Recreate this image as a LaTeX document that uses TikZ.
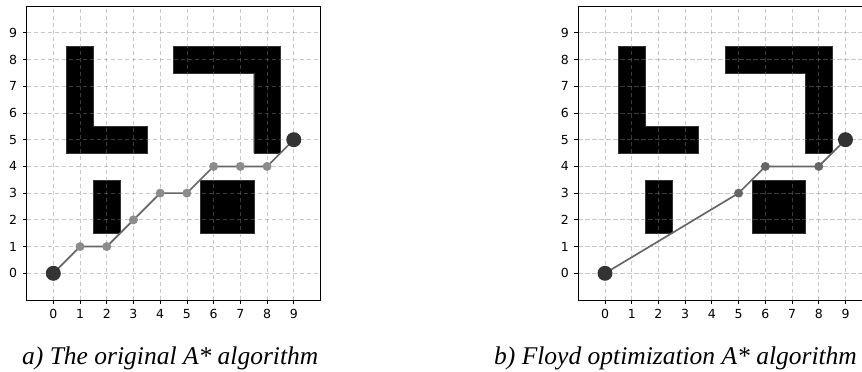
\documentclass[tikz,border=0pt]{standalone}
\usepackage{fontspec}
\setmainfont{Liberation Serif}
\setsansfont{DejaVu Sans}
\usetikzlibrary{positioning}

\begin{document}
\begin{tikzpicture}[
    x=1pt, y=1pt,
    frameline/.style={draw=black, line width=0.9pt},
    gridline/.style={draw=black!48, line width=0.8pt, dash pattern=on 4.5pt off 2.5pt, opacity=0.45},
    obstacle/.style={fill=black, draw=black!80, line width=0.4pt},
    tickmark/.style={draw=black, line width=0.8pt},
    ticklabel/.style={font=\sffamily\fontsize{12.5}{14}\selectfont, inner sep=0pt},
    pathline/.style={draw=black!60, line width=1.7pt, line join=round},
    waypt/.style={circle, fill=black!45, inner sep=0pt, minimum size=9pt},
    endpt/.style={circle, fill=black!80, inner sep=0pt, minimum size=15pt},
    caption/.style={font=\itshape\fontsize{25.5}{28}\selectfont, anchor=base west, inner sep=0pt},
]
\useasboundingbox (0,0) rectangle (862,372);
\clip (0,0) rectangle (862,372);

% === Both grids: obstacles, dashed grid, ticks, frame ===
\foreach \ox/\tag in {53.3/a, 605/b} {
  \begin{scope}[shift={(\ox,98.7)}, x=26.72pt, y=26.72pt]
    \fill[obstacle] (0.5,8.5) -- (1.5,8.5) -- (1.5,5.5) -- (3.5,5.5) -- (3.5,4.5) -- (0.5,4.5) -- cycle;
    \fill[obstacle] (4.5,8.5) -- (8.5,8.5) -- (8.5,4.5) -- (7.5,4.5) -- (7.5,7.5) -- (4.5,7.5) -- cycle;
    \fill[obstacle] (1.5,1.5) rectangle (2.5,3.5);
    \fill[obstacle] (5.5,1.5) rectangle (7.5,3.5);
    \foreach \i in {0,...,9} {
      \draw[gridline] (\i,-1) -- (\i,10);
      \draw[gridline] (-1,\i) -- (10,\i);
      \draw[tickmark] (\i,-1) -- ++(0,-4pt) node[ticklabel, below=4.5pt] (x\tag\i) {\i};
      \draw[tickmark] (-1,\i) -- ++(-4pt,0) node[ticklabel, left=5pt] (y\tag\i) {\i};
    }
    \draw[frameline] (-1,-1) rectangle (10,10);
  \end{scope}
}

% === a) original A* path ===
\begin{scope}[shift={(53.3,98.7)}, x=26.72pt, y=26.72pt]
  \foreach \x/\y [count=\k] in {0/0,1/1,2/1,3/2,4/3,5/3,6/4,7/4,8/4,9/5}
    \coordinate (a\k) at (\x,\y);
  \draw[pathline] (a1) \foreach \k in {2,...,10} {-- (a\k)};
  \foreach \k in {2,...,9}
    \node[waypt] (wa\k) at (a\k) {};
  \node[endpt] (starta) at (a1) {};
  \node[endpt] (goala) at (a10) {};
\end{scope}

% === b) Floyd optimized path ===
\begin{scope}[shift={(605,98.7)}, x=26.72pt, y=26.72pt]
  \foreach \x/\y [count=\k] in {0/0,5/3,6/4,8/4,9/5}
    \coordinate (b\k) at (\x,\y);
  \draw[pathline] (b1) \foreach \k in {2,...,5} {-- (b\k)};
  \foreach \k in {2,...,4}
    \node[waypt, fill=black!60] (wb\k) at (b\k) {};
  \node[endpt] (startb) at (b1) {};
  \node[endpt] (goalb) at (b5) {};
\end{scope}

% === Captions ===
\node[caption] (capa) at (22,7) {a) The original A* algorithm};
\node[caption] (capb) at (494,7) {b) Floyd optimization A* algorithm};

\end{tikzpicture}
\end{document}
